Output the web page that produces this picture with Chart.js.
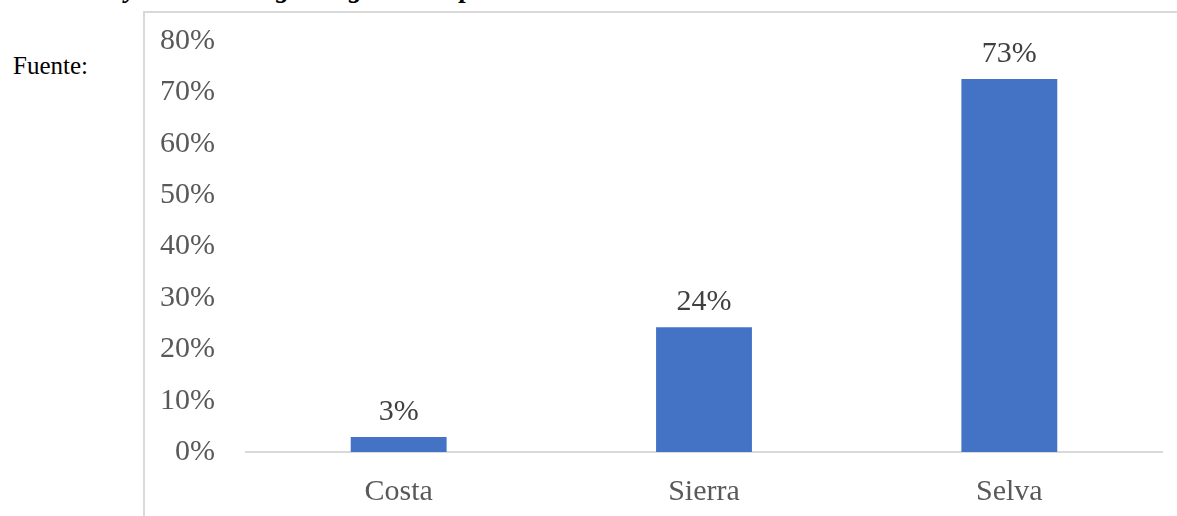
<!DOCTYPE html>
<html>
<head>
<meta charset="utf-8">
<script src="https://cdn.jsdelivr.net/npm/chart.js@4.4.1/dist/chart.umd.min.js"></script>
<style>
  html, body { margin: 0; padding: 0; background: #ffffff; }
  body { width: 1177px; height: 516px; position: relative; overflow: hidden; }
  #frame { position: absolute; left: 143px; top: 11px; width: 1100px; height: 600px;
           border-left: 2px solid #d9d9d9; border-top: 2px solid #d9d9d9; box-sizing: border-box; }
  #chart { position: absolute; left: 0; top: 0; }
  .title { position: absolute; top: -25px; font-family: 'Liberation Serif', serif; font-size: 27px;
           font-weight: bold; font-style: italic; line-height: 27px; color: #000; white-space: nowrap; }
  #fuente { position: absolute; left: 13px; top: 51px; font-family: 'Liberation Serif', serif;
            font-size: 25px; line-height: 30px; color: #000; }
</style>
</head>
<body>
<div class="title" style="right: 1040px;">Distribución de estudiantes y</div>
<div class="title" style="left: 254px;">según región</div>
<div class="title" style="left: 428px;">de procedencia</div>
<div id="frame"></div>
<div id="fuente">Fuente:</div>
<canvas id="chart" width="1177" height="516"></canvas>
<script>
const categories = ['Costa', 'Sierra', 'Selva'];
const shares = [2.9, 24.3, 72.6];
const yTickValues = [0, 10, 20, 30, 40, 50, 60, 70, 80];

const FONT = "'Liberation Serif', 'Times New Roman', serif";

const valueLabels = {
  id: 'valueLabels',
  afterDatasetsDraw(chart) {
    const ctx = chart.ctx;
    const meta = chart.getDatasetMeta(0);
    ctx.save();
    ctx.font = "30px " + FONT;
    ctx.fillStyle = '#404040';
    ctx.textAlign = 'center';
    ctx.textBaseline = 'alphabetic';
    meta.data.forEach((bar, i) => {
      const v = chart.data.datasets[0].data[i];
      ctx.fillText(Math.round(v) + '%', bar.x, bar.y - 17);
    });
    ctx.restore();
  }
};

new Chart(document.getElementById('chart'), {
  type: 'bar',
  data: {
    labels: categories,
    datasets: [{
      data: shares,
      backgroundColor: '#4472C4',
      borderWidth: 0,
      categoryPercentage: 1,
      barPercentage: 0.314
    }]
  },
  options: {
    responsive: false,
    devicePixelRatio: 1,
    animation: false,
    layout: { padding: { top: 35, right: 15, left: 0, bottom: 0 } },
    plugins: { legend: { display: false }, tooltip: { enabled: false } },
    scales: {
      x: {
        grid: { display: false },
        border: { display: true, color: '#d9d9d9', width: 2 },
        ticks: { color: '#595959', font: { family: FONT, size: 30 }, padding: 14 },
        afterFit(scale) { scale.height = 64; }
      },
      y: {
        min: 0,
        max: 80,
        grid: { display: false },
        border: { display: false },
        afterBuildTicks(scale) { scale.ticks = yTickValues.map(v => ({ value: v })); },
        ticks: {
          color: '#595959',
          font: { family: FONT, size: 30 },
          padding: 23,
          callback: (v) => v + '%'
        },
        afterFit(scale) { scale.width = 246; }
      }
    }
  },
  plugins: [valueLabels]
});
</script>
</body>
</html>
